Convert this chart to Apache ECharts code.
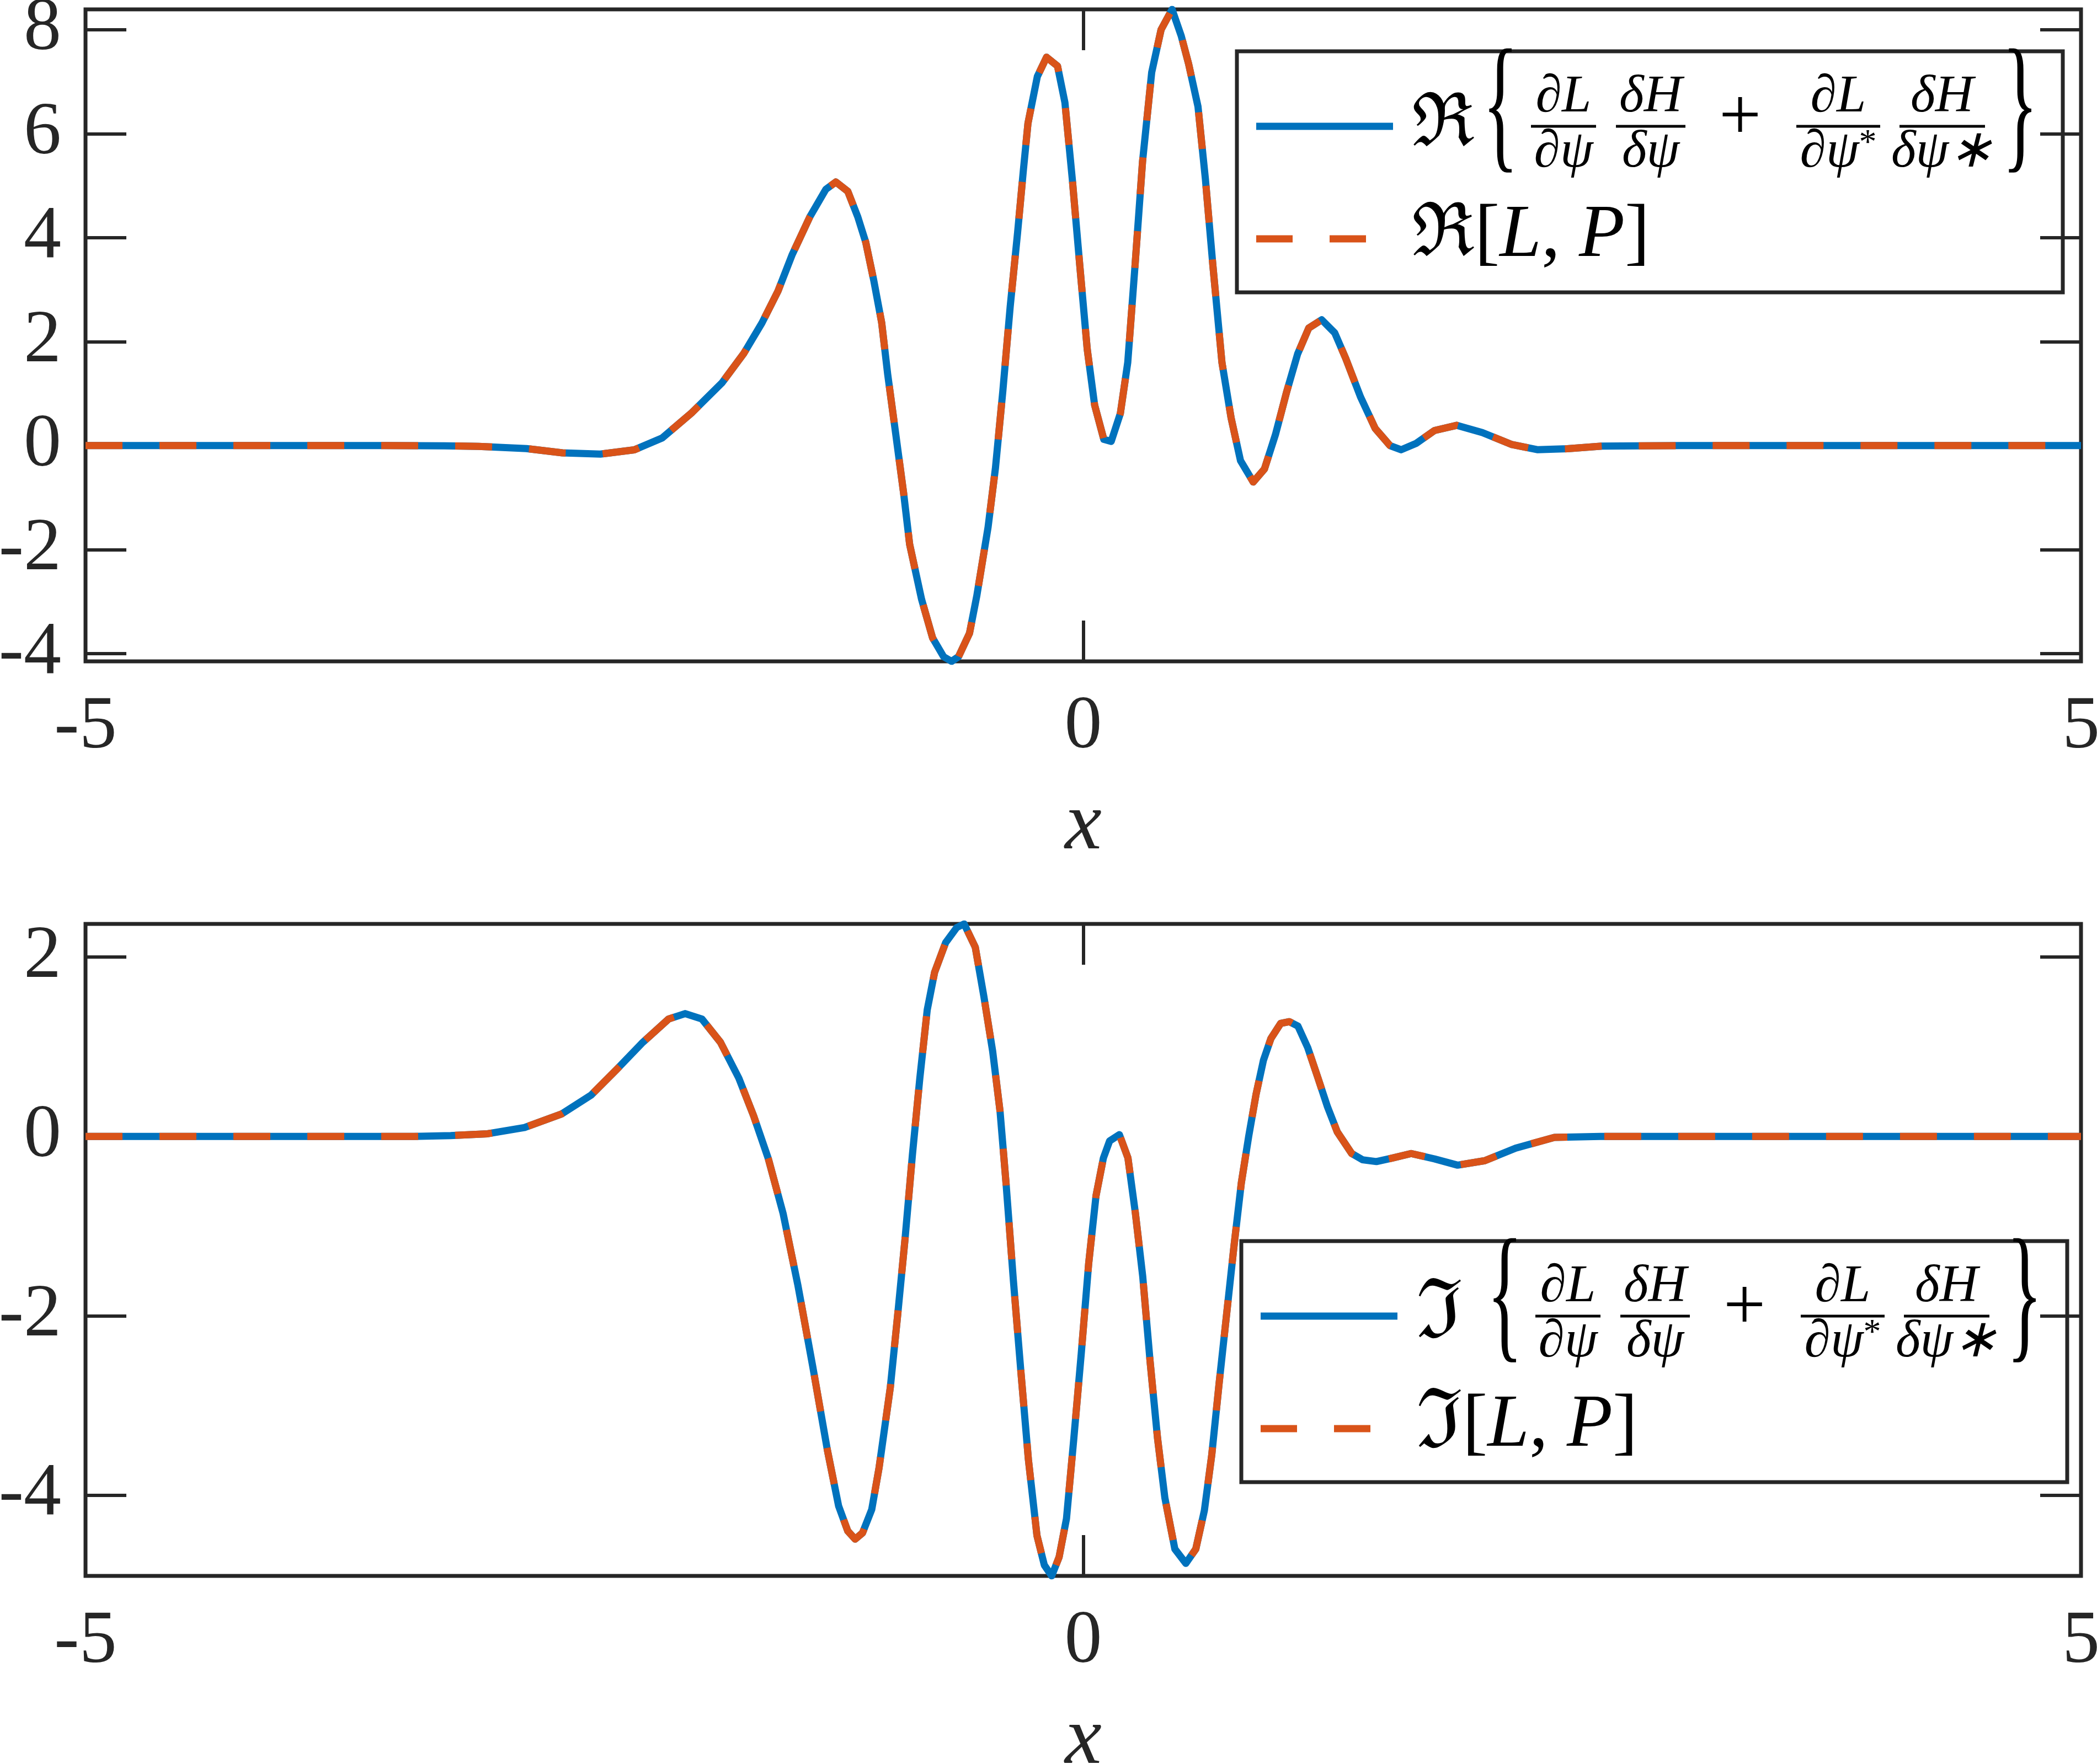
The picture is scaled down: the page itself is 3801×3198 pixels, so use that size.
<!DOCTYPE html>
<html><head><meta charset="utf-8">
<script src="https://cdn.jsdelivr.net/npm/echarts@6/dist/echarts.min.js"></script>
<style>html,body{margin:0;padding:0;background:#fff}#c{width:3801px;height:3198px}</style>
</head><body><div id="c"></div>
<script>
// ---------- data ----------
const xRe = [-5, -4, -3.5, -3.2, -3.03, -2.79, -2.61, -2.42, -2.25, -2.11, -1.96, -1.81, -1.70, -1.61, -1.53, -1.46, -1.37, -1.29, -1.24, -1.18, -1.13, -1.09, -1.05, -1.01, -0.98, -0.94, -0.90, -0.87, -0.81, -0.755, -0.70, -0.66, -0.625, -0.57, -0.533, -0.477, -0.44, -0.403, -0.366, -0.329, -0.30, -0.277, -0.23, -0.184, -0.129, -0.092, -0.055, -0.018, 0.02, 0.057, 0.103, 0.14, 0.186, 0.223, 0.26, 0.297, 0.343, 0.39, 0.445, 0.491, 0.528, 0.575, 0.612, 0.649, 0.695, 0.741, 0.788, 0.852, 0.908, 0.963, 1.019, 1.074, 1.13, 1.195, 1.26, 1.315, 1.389, 1.463, 1.537, 1.593, 1.667, 1.76, 1.871, 2.0, 2.148, 2.278, 2.426, 2.6, 3.0, 5];
const reLHS = [0, 0, 0, -0.005, -0.015, -0.057, -0.139, -0.164, -0.082, 0.147, 0.638, 1.21, 1.78, 2.36, 2.97, 3.66, 4.40, 4.93, 5.07, 4.89, 4.40, 3.91, 3.18, 2.36, 1.37, 0.23, -0.92, -1.90, -2.96, -3.70, -4.06, -4.15, -4.06, -3.61, -2.88, -1.57, -0.43, 1.05, 2.68, 4.1, 5.3, 6.2, 7.10, 7.47, 7.30, 6.60, 5.13, 3.49, 1.85, 0.78, 0.12, 0.08, 0.62, 1.60, 3.49, 5.46, 7.18, 8.00, 8.39, 7.88, 7.34, 6.52, 5.13, 3.49, 1.60, 0.53, -0.29, -0.70, -0.45, 0.21, 1.03, 1.76, 2.26, 2.42, 2.17, 1.68, 0.94, 0.33, 0.00, -0.08, 0.04, 0.29, 0.39, 0.25, 0.02, -0.08, -0.06, -0.01, 0, 0];
const reBracket = [0, 0, 0, -0.005, -0.015, -0.057, -0.139, -0.164, -0.082, 0.147, 0.638, 1.21, 1.78, 2.36, 2.97, 3.66, 4.40, 4.93, 5.07, 4.89, 4.40, 3.91, 3.18, 2.36, 1.37, 0.23, -0.92, -1.90, -2.96, -3.70, -4.06, -4.15, -4.06, -3.61, -2.88, -1.57, -0.43, 1.05, 2.68, 4.1, 5.3, 6.2, 7.10, 7.47, 7.30, 6.60, 5.13, 3.49, 1.85, 0.78, 0.12, 0.08, 0.62, 1.60, 3.49, 5.46, 7.18, 8.00, 8.39, 7.88, 7.34, 6.52, 5.13, 3.49, 1.60, 0.53, -0.29, -0.70, -0.45, 0.21, 1.03, 1.76, 2.26, 2.42, 2.17, 1.68, 0.94, 0.33, 0.00, -0.08, 0.04, 0.29, 0.39, 0.25, 0.02, -0.08, -0.06, -0.01, 0, 0];

const xIm = [-5, -4, -3.5, -3.355, -3.17, -2.985, -2.80, -2.615, -2.467, -2.337, -2.207, -2.078, -1.995, -1.911, -1.818, -1.726, -1.652, -1.578, -1.504, -1.43, -1.356, -1.282, -1.226, -1.18, -1.143, -1.106, -1.06, -1.023, -0.967, -0.93, -0.893, -0.856, -0.819, -0.782, -0.745, -0.69, -0.634, -0.597, -0.541, -0.498, -0.454, -0.417, -0.387, -0.35, -0.313, -0.275, -0.232, -0.195, -0.158, -0.121, -0.084, -0.047, -0.01, 0.027, 0.064, 0.101, 0.132, 0.181, 0.224, 0.261, 0.298, 0.335, 0.372, 0.409, 0.459, 0.514, 0.564, 0.607, 0.644, 0.681, 0.718, 0.755, 0.792, 0.829, 0.866, 0.903, 0.94, 0.989, 1.033, 1.076, 1.125, 1.175, 1.224, 1.273, 1.345, 1.40, 1.469, 1.55, 1.643, 1.76, 1.876, 2.012, 2.167, 2.361, 2.59, 3, 5];
const imLHS = [0, 0, 0, 0, 0.01, 0.03, 0.10, 0.25, 0.46, 0.75, 1.05, 1.31, 1.37, 1.31, 1.05, 0.65, 0.23, -0.25, -0.86, -1.66, -2.56, -3.50, -4.12, -4.40, -4.49, -4.42, -4.16, -3.69, -2.80, -1.99, -1.14, -0.20, 0.65, 1.41, 1.83, 2.16, 2.33, 2.37, 2.11, 1.56, 0.95, 0.28, -0.52, -1.61, -2.61, -3.60, -4.45, -4.78, -4.90, -4.69, -4.26, -3.36, -2.42, -1.42, -0.66, -0.24, -0.05, 0.02, -0.24, -0.85, -1.56, -2.51, -3.36, -4.03, -4.60, -4.76, -4.60, -4.17, -3.55, -2.75, -1.99, -1.23, -0.52, 0.00, 0.47, 0.85, 1.09, 1.26, 1.28, 1.23, 0.99, 0.66, 0.33, 0.05, -0.19, -0.26, -0.28, -0.24, -0.19, -0.25, -0.32, -0.27, -0.13, -0.01, 0, 0, 0];
const imBracket = [0, 0, 0, 0, 0.01, 0.03, 0.10, 0.25, 0.46, 0.75, 1.05, 1.31, 1.37, 1.31, 1.05, 0.65, 0.23, -0.25, -0.86, -1.66, -2.56, -3.50, -4.12, -4.40, -4.49, -4.42, -4.16, -3.69, -2.80, -1.99, -1.14, -0.20, 0.65, 1.41, 1.83, 2.16, 2.33, 2.37, 2.11, 1.56, 0.95, 0.28, -0.52, -1.61, -2.61, -3.60, -4.45, -4.78, -4.90, -4.69, -4.26, -3.36, -2.42, -1.42, -0.66, -0.24, -0.05, 0.02, -0.24, -0.85, -1.56, -2.51, -3.36, -4.03, -4.60, -4.76, -4.60, -4.17, -3.55, -2.75, -1.99, -1.23, -0.52, 0.00, 0.47, 0.85, 1.09, 1.26, 1.28, 1.23, 0.99, 0.66, 0.33, 0.05, -0.19, -0.26, -0.28, -0.24, -0.19, -0.25, -0.32, -0.27, -0.13, -0.01, 0, 0, 0];

const xTicks = [-5, 0, 5];
const yTicksRe = [-4, -2, 0, 2, 4, 6, 8];
const yTicksIm = [-4, -2, 0, 2];
const xName = 'x';
const reSymbol = 'ℜ';
const imSymbol = 'ℑ';

// ---------- styling ----------
const C = '#262626', BLUE = '#0072BD', ORANGE = '#D95319';
const FF = 'Liberation Serif';
const FSYM = 'DejaVu Serif';
const chart = echarts.init(document.getElementById('c'), null, {renderer: 'canvas'});

function pairs(xs, ys) { return xs.map((x, i) => [x, ys[i]]); }
function lo(a) { return Math.min.apply(null, a); }
function hi(a) { return Math.max.apply(null, a); }

const tickStyle = {color: C, width: 6};
function xAxisPair(gi) {
  const common = {type: 'value', gridIndex: gi, min: -5, max: 5, splitLine: {show: false},
    axisLine: {show: false, onZero: false},
    axisTick: {show: true, inside: true, length: 74, customValues: xTicks, lineStyle: tickStyle}};
  return [
    Object.assign({}, common, {position: 'bottom',
      axisLabel: {show: true, customValues: xTicks, margin: 120, verticalAlign: 'middle', fontSize: 136, fontFamily: FF, color: C},
      name: xName, nameLocation: 'middle', nameGap: 300,
      nameTextStyle: {fontSize: 150, fontStyle: 'italic', fontFamily: FF, color: C, verticalAlign: 'middle'}}),
    Object.assign({}, common, {position: 'top', axisLabel: {show: false}})
  ];
}
function yAxisPair(gi, ticks, mn, mx) {
  const common = {type: 'value', gridIndex: gi, min: mn, max: mx, splitLine: {show: false},
    axisLine: {show: false, onZero: false},
    axisTick: {show: true, inside: true, length: 74, customValues: ticks, lineStyle: tickStyle}};
  return [
    Object.assign({}, common, {position: 'left',
      axisLabel: {show: true, customValues: ticks, margin: 44, fontSize: 136, fontFamily: FF, color: C}}),
    Object.assign({}, common, {position: 'right', axisLabel: {show: false}})
  ];
}
function lineSeries(name, xi, yi, data, color, dashed) {
  return {type: 'line', name: name, xAxisIndex: xi, yAxisIndex: yi, data: data, symbol: 'none', showSymbol: false,
    smooth: false, z: dashed ? 4 : 3,
    lineStyle: {color: color, width: 13, cap: 'butt', join: 'round', type: dashed ? [67, 67] : 'solid', dashOffset: 0},
    itemStyle: {color: color}};
}

// ---------- legend (drawn as graphic text) ----------
function legendGroup(gx, gy, sym, symSize) {
  const T = (x, y, text, st, extra) => Object.assign({type: 'text', x: x, y: y,
    style: Object.assign({text: text, fill: '#000', fontFamily: FF}, st)}, extra || {});
  const bar = (x1, x2) => ({type: 'line', shape: {x1: x1, y1: 136, x2: x2, y2: 136}, style: {stroke: '#000', lineWidth: 5}});
  const fr = {fontSize: 96, fontStyle: 'italic', align: 'center', verticalAlign: 'middle'};
  const richDen = {i: {fontSize: 96, fontStyle: 'italic', fontFamily: FF}, s: {fontSize: 64, fontFamily: FF, verticalAlign: 'top', lineHeight: 96}};
  return {type: 'group', x: gx, y: gy, z: 100, children: [
    {type: 'rect', shape: {x: 0, y: 0, width: 1497, height: 437}, style: {fill: '#fff', stroke: C, lineWidth: 7}},
    {type: 'line', shape: {x1: 35, y1: 136, x2: 283, y2: 136}, style: {stroke: BLUE, lineWidth: 13}},
    {type: 'line', shape: {x1: 35, y1: 340, x2: 283, y2: 340}, style: {stroke: ORANGE, lineWidth: 13, lineDash: [66, 67]}},
    T(317, 136, sym, {fontSize: symSize, fontFamily: FSYM, verticalAlign: 'middle'}),
    T(445, 112, '{', {fontSize: 136, verticalAlign: 'middle'}, {scaleY: 2.0}),
    T(592, 84, '∂L', fr), bar(533, 651), T(592, 184, '∂ψ', fr),
    T(750, 84, 'δH', fr), bar(687, 813), T(750, 184, 'δψ', fr),
    T(912, 124, '+', {fontSize: 136, align: 'center', verticalAlign: 'middle'}),
    T(1090, 84, '∂L', fr), bar(1014, 1166),
    T(1090, 184, '{i|∂ψ}{s|*}', {align: 'center', verticalAlign: 'middle', rich: richDen}),
    T(1278, 84, 'δH', fr), bar(1201, 1356), T(1278, 184, 'δψ∗', fr),
    T(1387, 112, '}', {fontSize: 136, verticalAlign: 'middle'}, {scaleY: 2.0}),
    T(317, 335, '{r|' + sym + '}{u|[}{i|L}{u|, }{i|P}{u|]}', {verticalAlign: 'middle',
      rich: {r: {fontSize: symSize, fontFamily: FSYM}, u: {fontSize: 136, fontFamily: FF}, i: {fontSize: 136, fontStyle: 'italic', fontFamily: FF}}})
  ]};
}

const gridCommon = {left: 155, right: 29, height: 1182, show: true, borderColor: C, borderWidth: 7,
  backgroundColor: 'rgba(0,0,0,0)', containLabel: false, outerBoundsMode: 'none'};
const option = {
  animation: false,
  backgroundColor: '#fff',
  grid: [Object.assign({top: 17}, gridCommon), Object.assign({top: 1675}, gridCommon)],
  xAxis: xAxisPair(0).concat(xAxisPair(1)),
  yAxis: yAxisPair(0, yTicksRe, lo(reLHS), hi(reLHS)).concat(yAxisPair(1, yTicksIm, lo(imLHS), hi(imLHS))),
  series: [
    lineSeries('Re{dL/dpsi dH/dpsi + dL/dpsi* dH/dpsi*}', 0, 0, pairs(xRe, reLHS), BLUE, false),
    lineSeries('Re[L,P]', 0, 0, pairs(xRe, reBracket), ORANGE, true),
    lineSeries('Im{dL/dpsi dH/dpsi + dL/dpsi* dH/dpsi*}', 2, 2, pairs(xIm, imLHS), BLUE, false),
    lineSeries('Im[L,P]', 2, 2, pairs(xIm, imBracket), ORANGE, true)
  ],
  graphic: [legendGroup(2242, 93, reSymbol, 134), legendGroup(2250, 2250, imSymbol, 150)]
};
chart.setOption(option);
</script>
</body></html>
